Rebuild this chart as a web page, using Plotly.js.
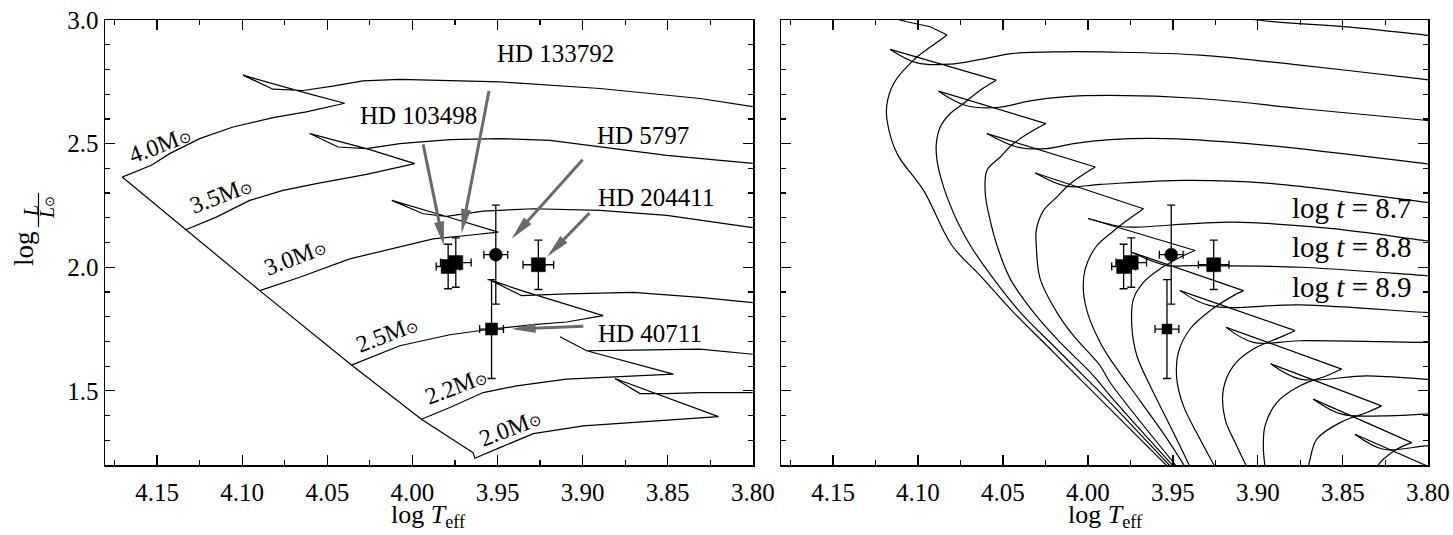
<!DOCTYPE html>
<html><head><meta charset="utf-8">
<script src="https://cdn.plot.ly/plotly-3.0.1.min.js"></script>
<style>html,body{margin:0;padding:0;background:#fff}#chart{width:1453px;height:535px}</style>
</head><body><div id="chart"></div>
<script>
// ---------- Stars (both panels) ----------
const starNames = ['HD 103498','HD 133792','HD 5797','HD 204411','HD 40711'];
const starLogT  = [3.979, 3.9745, 3.951, 3.926, 3.9535];
const starLogL  = [2.003, 2.019, 2.051, 2.010, 1.750];
const starErrT  = [0.007, 0.009, 0.007, 0.009, 0.007];
const starErrL  = [0.09, 0.10, 0.20, 0.10, 0.20];
const starSymbol = ['square','square','circle','square','square'];

// ---------- Evolutionary tracks (left panel) ----------
const trackMasses = ['4.0','3.5','3.0','2.5','2.2','2.0'];
const trackLabelT = [4.1485, 4.1123, 4.0691, 4.0149, 3.9741, 3.9427];
const trackLabelL = [2.4932, 2.2906, 2.0404, 1.7299, 1.5203, 1.3513];
const track40T = [4.1705,4.1534,4.1426,4.125,4.1054,4.0819,4.0623,4.0398,4.0623,4.0839,4.0995,4.0819,4.0643,4.0468,4.029,4.0074,3.9486,3.8898,3.831,3.80];
const track40L = [2.3647,2.4122,2.4596,2.5204,2.5674,2.6055,2.6282,2.6635,2.704,2.7446,2.777,2.7203,2.715,2.7324,2.7539,2.7596,2.7499,2.7231,2.6826,2.650];
const track35T = [4.1332,4.1152,4.0956,4.076,4.0564,4.027,3.9986,4.027,4.0603,4.0437,4.027,4.0074,3.978,3.9486,3.9192,3.8898,3.8506,3.80];
const track35L = [2.1515,2.2026,2.2703,2.3108,2.338,2.3757,2.4191,2.4799,2.5407,2.4864,2.4799,2.5001,2.5164,2.5204,2.5135,2.4864,2.4527,2.42];
const track30T = [4.0897,4.0662,4.0368,4.0074,3.9878,3.9682,3.9496,3.98,4.0121,3.9937,3.98,3.9584,3.929,3.8898,3.8506,3.80];
const track30L = [1.9054,1.9593,2.0339,2.081,2.115,2.1284,2.1418,2.2054,2.2703,2.2164,2.2054,2.2269,2.2366,2.2297,2.2095,2.16];
const track25T = [4.0358,4.0074,3.978,3.9535,3.929,3.9094,3.8879,3.9359,3.9545,3.9359,3.9094,3.8702,3.831,3.80];
const track25L = [1.6042,1.6825,1.727,1.7501,1.7676,1.7785,1.8041,1.9054,1.9488,1.8852,1.8921,1.8985,1.8783,1.857];
const track22T = [3.9947,3.978,3.9584,3.9388,3.9094,3.88,3.8467,3.8976,3.9133,3.8976,3.8702,3.831,3.80];
const track22L = [1.3853,1.4323,1.4931,1.5203,1.5474,1.5568,1.5677,1.6622,1.7189,1.6622,1.665,1.6691,1.648];
const track20T = [3.9643,3.9633,3.9486,3.929,3.8996,3.8702,3.8408,3.8202,3.881,3.8663,3.8506,3.831,3.80];
const track20L = [1.25,1.2272,1.2702,1.3269,1.3581,1.3715,1.3853,1.3958,1.5499,1.4891,1.4891,1.4931,1.4931];
const zamsT = [4.1705,4.1332,4.0897,4.0358,3.9947,3.9643];
const zamsL = [2.3647,2.1515,1.9054,1.6042,1.3853,1.25];

// ---------- Arrows and labels (left panel) ----------
const arrowTailT = [3.9937, 3.955, 3.900, 3.896, 3.8996];
const arrowTailL = [2.497, 2.713, 2.435, 2.219, 1.761];
const arrowHeadT = [3.9815, 3.9711, 3.9417, 3.9208, 3.9417];
const arrowHeadL = [2.088, 2.138, 2.115, 2.043, 1.750];
const starLabelT = [3.9962, 3.916, 3.8643, 3.8569, 3.8604];
const starLabelL = [2.615, 2.865, 2.534, 2.284, 1.732];

// ---------- Isochrones (right panel): main sequence, hook, Hertzsprung-gap part ----------
const A_msT = [3.9528,3.9869,4.0046,4.0241,4.0438,4.0634,4.08,4.0967,4.1123,4.1182,4.1182,4.1143,4.1026,4.0869,4.0829];
const A_msL = [1.1919,1.4259,1.5475,1.6825,1.8175,1.9663,2.0879,2.3108,2.4596,2.5946,2.6623,2.7434,2.8379,2.9189,2.9392];
const A_hkT = [4.0829,4.0928,4.1065,4.1339,4.1457];
const A_hkL = [2.9392,2.9729,2.9931,3.0406,3.0608];
const A_hgT = [4.1457,4.1281,4.1104,4.0516,3.9928,3.934,3.9005,3.8458,3.8017,3.7958];
const A_hgL = [3.0608,3.0203,3.0243,3.0649,3.073,3.0406,3.0,2.9716,2.9392,2.9352];

const B_msT = [3.9511,3.9869,4.0006,4.0203,4.0398,4.0555,4.0692,4.0771,4.0849,4.0888,4.0892,4.0869,4.081,4.0732,4.0634,4.054];
const B_msL = [1.1919,1.4526,1.5475,1.6825,1.8175,1.9529,2.0879,2.1892,2.3242,2.4325,2.5002,2.5675,2.6218,2.6623,2.7162,2.7568];
const B_hkT = [4.054,4.1163];
const B_hkL = [2.7568,2.8812];
const B_hgT = [4.1163,4.1006,4.081,4.0634,4.0438,4.0144,3.9869,3.934,3.8752,3.8017,3.7958];
const B_hgL = [2.8812,2.8269,2.8216,2.8407,2.865,2.8715,2.8703,2.8581,2.8176,2.7596,2.7548];

const C_msT = [3.9493,3.9869,3.9967,4.0163,4.032,4.0457,4.0535,4.0575,4.0604,4.0594,4.0516,4.0438,4.032,4.0247];
const C_msL = [1.1919,1.4798,1.5609,1.6959,1.8175,1.9529,2.0879,2.1892,2.2975,2.3919,2.4458,2.5002,2.5541,2.5812];
const C_hkT = [4.0247,4.0879];
const C_hkL = [2.5812,2.7122];
const C_hgT = [4.0879,4.0722,4.0535,4.034,4.0144,3.9869,3.934,3.8752,3.8017,3.7958];
const C_hgL = [2.7122,2.6554,2.6461,2.6729,2.6891,2.6948,2.6826,2.6421,2.5946,2.5906];

const D_msT = [3.9475,3.9869,3.9928,4.0085,4.0183,4.0281,4.0304,4.0304,4.0261,4.0183,4.0104,3.9957];
const D_msL = [1.1919,1.5337,1.6014,1.723,1.8175,1.9529,2.0879,2.1487,2.2298,2.2837,2.338,2.4053];
const D_hkT = [3.9957,4.0594];
const D_hkL = [2.4053,2.5407];
const D_hgT = [4.0594,4.0418,4.0241,4.0085,3.9869,3.9536,3.8948,3.8017,3.7958];
const D_hgL = [2.5407,2.4864,2.4799,2.5002,2.5164,2.5204,2.4933,2.4191,2.4142];

const E_msT = [3.9428,3.9546,3.9693,3.9869,3.9928,3.9997,4.0026,4.0016,3.9947,3.9869,3.981,3.9673];
const E_msL = [1.1919,1.3176,1.4595,1.6286,1.6959,1.8041,1.8986,1.9934,2.0879,2.1353,2.169,2.2367];
const E_hkT = [3.9673,4.031];
const E_hkL = [2.2367,2.381];
const E_hgT = [4.031,4.0124,3.9928,3.9438,3.8948,3.8017,3.7958];
const E_hgL = [2.381,2.3271,2.3352,2.3514,2.3404,2.2634,2.2581];

const F_msT = [3.9399,3.9458,3.9536,3.9634,3.9712,3.9742,3.9732,3.9673,3.9575,3.9458,3.9369];
const F_msL = [1.1919,1.2771,1.3853,1.5203,1.6419,1.7635,1.8718,1.9391,1.9934,2.0404,2.0676];
const F_hkT = [3.9369,3.9999];
const F_hkL = [2.0676,2.1973];
const F_hgT = [3.9999,3.981,3.9732,3.9144,3.8576,3.8017,3.7958];
const F_hgL = [2.1973,2.1649,2.162,2.1823,2.1568,2.1081,2.1041];

const G_msT = [3.9252,3.934,3.9438,3.9477,3.9468,3.9399,3.9281,3.9144,3.9085];
const G_msL = [1.1919,1.3042,1.4392,1.5475,1.6553,1.7502,1.8244,1.8852,1.9054];
const G_hkT = [3.9085,3.9742];
const G_hkL = [1.9054,2.0607];
const G_hgT = [3.9742,3.9536,3.9379,3.8752,3.8017,3.7958];
const G_hgL = [2.0607,2.0068,2.0068,1.9999,1.9663,1.9642];

const H_msT = [3.9065,3.9124,3.9193,3.9203,3.9144,3.9027,3.887,3.8781];
const H_msL = [1.1919,1.2771,1.3853,1.5069,1.6014,1.669,1.7161,1.7433];
const H_hkT = [3.8781,3.9458];
const H_hkL = [1.7433,1.9054];
const H_hgT = [3.9458,3.9281,3.8752,3.8017,3.7958];
const H_hgL = [1.9054,1.8446,1.8474,1.8175,1.8162];

const I_msT = [3.8958,3.8968,3.8958,3.8889,3.8752,3.8595,3.8507];
const I_msL = [1.1919,1.2771,1.3582,1.4526,1.5203,1.5609,1.588];
const I_hkT = [3.8507,3.9187];
const I_hkL = [1.588,1.7567];
const I_hgT = [3.9187,3.9027,3.8752,3.8017,3.7958];
const I_hgL = [1.7567,1.6959,1.7027,1.6959,1.6959];

const J_msT = [3.8703,3.8693,3.8654,3.8517,3.836,3.8272];
const J_msL = [1.1919,1.2232,1.3042,1.3715,1.4121,1.4392];
const J_hkT = [3.8272,3.8924];
const J_hkL = [1.4392,1.6093];
const J_hgT = [3.8924,3.8752,3.836,3.8017,3.7958];
const J_hgL = [1.6093,1.5475,1.5609,1.5475,1.5446];

const K_msT = [3.8301,3.8262,3.8183,3.8095];
const K_msL = [1.1919,1.2232,1.2637,1.2905];
const K_hkT = [3.8095,3.8674];
const K_hkL = [1.2905,1.4664];
const K_hgT = [3.8674,3.8507,3.8262,3.8017,3.7958];
const K_hgL = [1.4664,1.4056,1.3987,1.4056,1.4056];

const L_hkT = [3.787,3.8429];
const L_hkL = [1.1555,1.3245];
const L_hgT = [3.8429,3.8262,3.8017,3.7958];
const L_hgL = [1.3245,1.2637,1.2771,1.2771];

const isoAges = ['8.7','8.8','8.9'];
const isoLabelT = [3.8088, 3.8088, 3.8088];
const isoLabelL = [2.2378, 2.0838, 1.9216];

// ---------- Axes ----------
const xRange = [4.1806, 3.7999];
const yRange = [1.2, 3.0001];
const W = 1453, H = 535;
const pxX1 = [105, 753], pxX2 = [781, 1428], pxY = [465, 20];
const FONT = 'Liberation Serif';
const GREY = '#6a6a6a';
const SUN = '<span style="font-size:15px">⊙</span>';

function xToPx(x){return pxX1[0]+(x-xRange[0])/(xRange[1]-xRange[0])*(pxX1[1]-pxX1[0]);}
function yToPx(y){return pxY[0]+(y-yRange[0])/(yRange[1]-yRange[0])*(pxY[1]-pxY[0]);}
function pxToX(p){return xRange[0]+(p-pxX1[0])/(pxX1[1]-pxX1[0])*(xRange[1]-xRange[0]);}
function pxToY(p){return yRange[0]+(p-pxY[0])/(pxY[1]-pxY[0])*(yRange[1]-yRange[0]);}

const traces = [];
function line(x, y, xa, ya, smooth){
  traces.push({x:x, y:y, mode:'lines', xaxis:xa, yaxis:ya, hoverinfo:'skip', showlegend:false,
    line: smooth ? {color:'#000', width:1.2, shape:'spline', smoothing:1} : {color:'#000', width:1.2}});
}
[[track40T,track40L],[track35T,track35L],[track30T,track30L],[track25T,track25L],[track22T,track22L],[track20T,track20L],[zamsT,zamsL]]
  .forEach(p => line(p[0], p[1], 'x', 'y', false));

const isoMS = [[A_msT,A_msL],[B_msT,B_msL],[C_msT,C_msL],[D_msT,D_msL],[E_msT,E_msL],[F_msT,F_msL],[G_msT,G_msL],[H_msT,H_msL],[I_msT,I_msL],[J_msT,J_msL],[K_msT,K_msL]];
const isoHK = [[A_hkT,A_hkL],[B_hkT,B_hkL],[C_hkT,C_hkL],[D_hkT,D_hkL],[E_hkT,E_hkL],[F_hkT,F_hkL],[G_hkT,G_hkL],[H_hkT,H_hkL],[I_hkT,I_hkL],[J_hkT,J_hkL],[K_hkT,K_hkL],[L_hkT,L_hkL]];
const isoHG = [[A_hgT,A_hgL],[B_hgT,B_hgL],[C_hgT,C_hgL],[D_hgT,D_hgL],[E_hgT,E_hgL],[F_hgT,F_hgL],[G_hgT,G_hgL],[H_hgT,H_hgL],[I_hgT,I_hgL],[J_hgT,J_hgL],[K_hgT,K_hgL],[L_hgT,L_hgL]];
isoMS.forEach(p => line(p[0], p[1], 'x2', 'y2', true));
isoHK.forEach(p => line(p[0], p[1], 'x2', 'y2', false));
isoHG.forEach(p => line(p[0], p[1], 'x2', 'y2', true));

function stars(xa, ya, sizes){
  traces.push({x:starLogT, y:starLogL, mode:'markers', xaxis:xa, yaxis:ya, showlegend:false, hoverinfo:'skip', opacity:1,
    marker:{symbol:starSymbol, size:sizes, color:'#000', opacity:1, line:{width:0.5, color:'#000'}},
    error_x:{type:'data', array:starErrT, color:'#000', thickness:1.3, width:4},
    error_y:{type:'data', array:starErrL, color:'#000', thickness:1.3, width:4}});
}
stars('x','y',[14,14,13,14,12]);
stars('x2','y2',[14,14,13,14,10]);

const shapes = [];
for (let i=0;i<arrowTailT.length;i++){
  const tx=xToPx(arrowTailT[i]), ty=yToPx(arrowTailL[i]);
  const hx=xToPx(arrowHeadT[i]), hy=yToPx(arrowHeadL[i]);
  const dx=hx-tx, dy=hy-ty, len=Math.hypot(dx,dy), ux=dx/len, uy=dy/len, nx=-uy, ny=ux;
  const L=24, w=5;
  const bx=hx-ux*L, by=hy-uy*L;
  shapes.push({type:'line', xref:'x', yref:'y', x0:arrowTailT[i], y0:arrowTailL[i], x1:pxToX(bx+ux*3), y1:pxToY(by+uy*3), line:{color:GREY, width:3}});
  shapes.push({type:'path', xref:'x', yref:'y', fillcolor:GREY, line:{width:0},
    path:'M'+pxToX(hx)+','+pxToY(hy)+' L'+pxToX(bx+nx*w)+','+pxToY(by+ny*w)+' L'+pxToX(bx-nx*w)+','+pxToY(by-ny*w)+' Z'});
}
// y-title fraction bar
shapes.push({type:'line', xref:'paper', yref:'paper', x0:38.5/W, x1:38.5/W, y0:1-193/H, y1:1-227/H, line:{color:'#000', width:1.2}});

const annotations = [];
function ann(o){ annotations.push(Object.assign({showarrow:false, xanchor:'center', yanchor:'middle'}, o)); }
for (let i=0;i<starNames.length;i++){
  ann({x:starLabelT[i], y:starLabelL[i], xref:'x', yref:'y', text:starNames[i], font:{family:FONT, size:25, color:'#000'}});
}
for (let i=0;i<trackMasses.length;i++){
  ann({x:trackLabelT[i], y:trackLabelL[i], xref:'x', yref:'y', text:trackMasses[i]+'M'+SUN, textangle:-21, font:{family:FONT, size:24, color:'#000'}});
}
for (let i=0;i<isoAges.length;i++){
  ann({x:isoLabelT[i], y:isoLabelL[i], xref:'x2', yref:'y2', xanchor:'right', text:'log <i>t</i> = '+isoAges[i], font:{family:FONT, size:29, color:'#000'}});
}
ann({x:429/W, y:1-516/H, xref:'paper', yref:'paper', text:'log <i>T</i><sub>eff</sub>', font:{family:FONT, size:26, color:'#000'}});
ann({x:1105/W, y:1-516/H, xref:'paper', yref:'paper', text:'log <i>T</i><sub>eff</sub>', font:{family:FONT, size:26, color:'#000'}});
ann({x:24/W, y:1-249/H, xref:'paper', yref:'paper', text:'log', textangle:-90, font:{family:FONT, size:27, color:'#000'}});
ann({x:31/W, y:1-211/H, xref:'paper', yref:'paper', text:'<i>L</i>', textangle:-90, font:{family:FONT, size:20, color:'#000'}});
ann({x:47/W, y:1-208/H, xref:'paper', yref:'paper', text:'<i>L</i><span style="font-size:13px">⊙</span>', textangle:-90, font:{family:FONT, size:20, color:'#000'}});

function xaxis(dom, anchor){
  return {domain:dom, range:xRange, anchor:anchor, showline:true, linecolor:'#000', linewidth:1.5, mirror:'allticks',
    ticks:'inside', ticklen:10, tickwidth:1.2, tickcolor:'#000', tick0:3.8, dtick:0.05, tickformat:'.2f',
    minor:{dtick:0.025, tick0:3.8, ticks:'inside', ticklen:5, tickwidth:1.2, tickcolor:'#000'},
    showgrid:false, zeroline:false, tickfont:{family:FONT, size:25, color:'#000'}, ticklabelstandoff:4, fixedrange:true};
}
function yaxis(anchor, labels){
  return {domain:[1-465/H, 1-20/H], range:yRange, anchor:anchor, showline:true, linecolor:'#000', linewidth:1.5, mirror:'allticks',
    ticks:'inside', ticklen:10, tickwidth:1.2, tickcolor:'#000', tick0:1.5, dtick:0.5, tickformat:'.1f', showticklabels:labels,
    minor:{dtick:0.1, tick0:1.5, ticks:'inside', ticklen:5, tickwidth:1.2, tickcolor:'#000'},
    showgrid:false, zeroline:false, tickfont:{family:FONT, size:25, color:'#000'}, fixedrange:true};
}

const layout = {
  width:W, height:H, margin:{l:0, r:0, t:0, b:0}, paper_bgcolor:'#fff', plot_bgcolor:'#fff',
  font:{family:FONT, color:'#000'},
  xaxis: xaxis([pxX1[0]/W, pxX1[1]/W], 'y'),
  yaxis: yaxis('x', true),
  xaxis2: xaxis([pxX2[0]/W, pxX2[1]/W], 'y2'),
  yaxis2: yaxis('x2', false),
  shapes: shapes, annotations: annotations, showlegend:false
};
Plotly.newPlot('chart', traces, layout, {displayModeBar:false, staticPlot:true});
</script></body></html>
